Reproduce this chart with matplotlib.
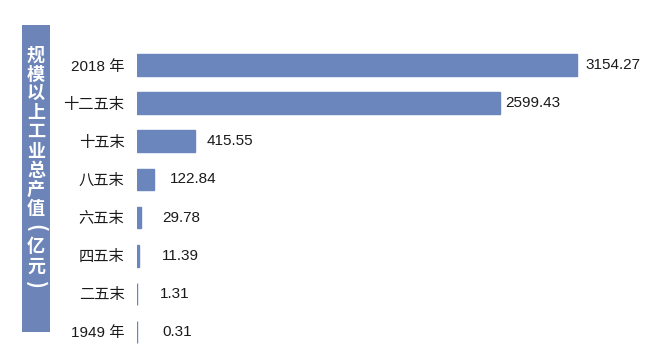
import matplotlib
matplotlib.use("Agg")
import matplotlib.pyplot as plt
import matplotlib.transforms as mtrans
from matplotlib.patches import Rectangle

plt.rcParams['font.family'] = ['Liberation Sans', 'Noto Sans CJK SC', 'DejaVu Sans']

categories = ["2018 年", "十二五末", "十五末", "八五末", "六五末", "四五末", "二五末", "1949 年"]
values = [3154.27, 2599.43, 415.55, 122.84, 29.78, 11.39, 1.31, 0.31]
value_labels = ["3154.27", "2599.43", "415.55", "122.84", "29.78", "11.39", "1.31", "0.31"]
title_chars = ["规", "模", "以", "上", "工", "业", "总", "产", "值", "(", "亿", "元", ")"]

W, H = 660, 355
fig = plt.figure(figsize=(W / 100, H / 100), dpi=100)
fig.patch.set_facecolor("white")

bar_color = "#6a86bd"
ax_left, ax_right = 137, 640
ax_top, ax_bottom = 46, 351
ax = fig.add_axes([ax_left / W, 1 - ax_bottom / H, (ax_right - ax_left) / W, (ax_bottom - ax_top) / H])
ypos = list(range(len(categories)))
ax.barh(ypos, values, height=0.57, color=bar_color, edgecolor=bar_color, linewidth=1.0)
ax.set_xlim(0, 3154.27 * (ax_right - ax_left) / 440)
ax.set_ylim(len(categories) - 0.5, -0.5)
ax.set_yticks(ypos)
ax.set_yticklabels(categories, fontsize=11, color="#1a1a1a")
ax.tick_params(axis="y", length=0, pad=9)
ax.set_xticks([])
for s in ax.spines.values():
    s.set_visible(False)

label_offsets_px = [8, 6, 12, 16, 21, 23, 23, 25]
for y, v, lab, off in zip(ypos, values, value_labels, label_offsets_px):
    tr = ax.transData + mtrans.ScaledTranslation(off / 100, 0, fig.dpi_scale_trans)
    ax.text(v, y, lab, transform=tr, va="center", ha="left", fontsize=11, color="#1a1a1a")

# vertical title box
fig.patches.append(Rectangle((22 / W, 1 - 332 / H), 28 / W, 307 / H,
                             transform=fig.transFigure, facecolor="#6c84b8", edgecolor="none"))
for i, ch in enumerate(title_chars):
    yc = 55 + i * 19.2
    is_paren = ch in "()"
    fig.text(36 / W, 1 - yc / H, ch, ha="center", va="center",
             fontsize=15 if is_paren else 13, rotation=-90 if is_paren else 0,
             color="white", fontweight="bold", family=['Noto Sans CJK SC', 'DejaVu Sans'])

fig.savefig("out.png", dpi=100)
